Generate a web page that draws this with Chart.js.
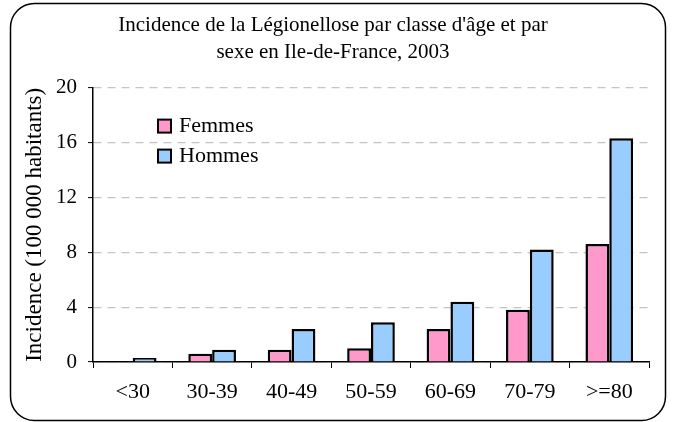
<!DOCTYPE html>
<html>
<head>
<meta charset="utf-8">
<script src="https://cdn.jsdelivr.net/npm/chart.js@4"></script>
<style>
  html, body { margin: 0; padding: 0; background: #fff; }
  #wrap { position: relative; width: 676px; height: 422px; }
</style>
</head>
<body>
<div id="wrap"><canvas id="chart" width="676" height="422"></canvas></div>
<script>
// Data
const ageGroups = ['<30', '30-39', '40-49', '50-59', '60-69', '70-79', '>=80'];
const femmes = [0, 0.6, 0.9, 1.0, 2.4, 3.8, 8.6];
const hommes = [0.3, 0.9, 2.4, 2.9, 4.4, 8.2, 16.3];
const titleLines = ["Incidence de la Légionellose par classe d'âge et par", 'sexe en Ile-de-France, 2003'];
const yTitle = 'Incidence (100 000 habitants)';

const serif = '"Liberation Serif", "DejaVu Serif", serif';
Chart.defaults.font.family = serif;
Chart.defaults.color = '#000';

// rounded frame + legend inside the plot
const framePlugin = {
    id: 'frame',
    beforeDraw(chart) {
        const c = chart.ctx;
        c.save();
        c.fillStyle = '#fff';
        c.fillRect(0, 0, chart.width, chart.height);
        c.strokeStyle = '#000';
        c.lineWidth = 1.5;
        c.beginPath();
        c.roundRect(10.5, 3.5, 655, 417, 24);
        c.stroke();
        c.restore();
    },
    afterDraw(chart) {
        const c = chart.ctx;
        const area = chart.chartArea;
        c.save();
        c.font = '22px ' + serif;
        c.textBaseline = 'middle';
        chart.data.datasets.forEach((ds, i) => {
            const x = area.left + 65;
            const y = area.top + 38 + i * 30;
            c.fillStyle = ds.backgroundColor;
            c.fillRect(x, y - 6, 13, 13);
            c.strokeStyle = '#000';
            c.lineWidth = 2;
            c.strokeRect(x, y - 6, 13, 13);
            c.fillStyle = '#000';
            c.fillText(ds.label, x + 21, y + 1);
        });
        c.restore();
    }
};

const ctx = document.getElementById('chart').getContext('2d');
const chart = new Chart(ctx, {
    type: 'bar',
    data: {
        labels: ageGroups,
        datasets: [
            {
                label: 'Femmes',
                data: femmes,
                backgroundColor: '#ff99cc',
                borderColor: '#000',
                borderWidth: 2.5,
                borderSkipped: 'bottom'
            },
            {
                label: 'Hommes',
                data: hommes,
                backgroundColor: '#99ccff',
                borderColor: '#000',
                borderWidth: 2.5,
                borderSkipped: 'bottom'
            }
        ]
    },
    options: {
        responsive: false,
        animation: false,
        layout: { padding: { left: 17, right: 27, top: 0, bottom: 0 } },
        datasets: { bar: { categoryPercentage: 0.6, barPercentage: 1.0 } },
        plugins: {
            legend: { display: false },
            tooltip: { enabled: false },
            title: {
                display: true,
                text: titleLines,
                color: '#000',
                font: { size: 21, weight: 'normal', lineHeight: 1.3 },
                padding: { top: 12, bottom: 21 }
            }
        },
        scales: {
            x: {
                afterFit(scale) { scale.height = 60; },
                grid: {
                    display: true,
                    offset: true,
                    drawOnChartArea: false,
                    drawTicks: true,
                    tickLength: 6,
                    tickColor: '#000',
                    tickWidth: 1
                },
                border: { display: true, color: '#000', width: 1.5 },
                ticks: {
                    color: '#000',
                    font: { size: 22 },
                    padding: 11,
                    maxRotation: 0
                }
            },
            y: {
                min: 0,
                max: 20,
                afterFit(scale) { scale.width = 76; },
                grid: {
                    color: '#c4c4c4',
                    lineWidth: 1.2,
                    drawTicks: true,
                    tickLength: 5,
                    tickColor: '#000',
                    tickWidth: 1,
                    tickBorderDash: []
                },
                border: { display: true, color: '#000', width: 1.5, dash: [8, 6] },
                ticks: {
                    stepSize: 4,
                    color: '#000',
                    font: { size: 21 },
                    padding: 11
                },
                title: {
                    display: true,
                    text: yTitle,
                    color: '#000',
                    font: { size: 23 },
                    padding: { top: 4, bottom: 0 }
                }
            }
        }
    },
    plugins: [framePlugin]
});
</script>
</body>
</html>
